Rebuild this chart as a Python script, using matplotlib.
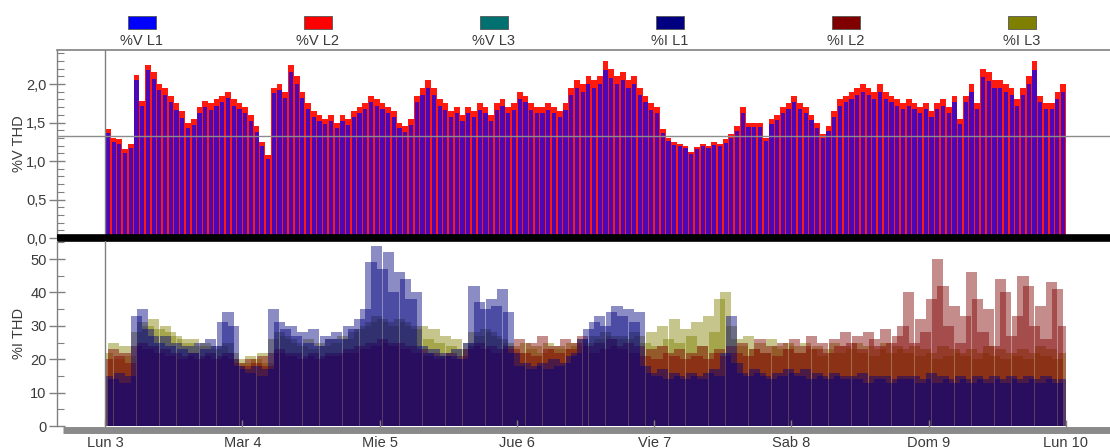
import numpy as np
import matplotlib
matplotlib.use("Agg")
import matplotlib.pyplot as plt
from matplotlib.patches import Rectangle
from matplotlib.ticker import MultipleLocator, FuncFormatter

plt.rcParams['font.family'] = ['Liberation Sans', 'DejaVu Sans']

# ---- labels -------------------------------------------------------------
day_labels = ["Lun 3", "Mar 4", "Mie 5", "Jue 6", "Vie 7", "Sab 8", "Dom 9", "Lun 10"]
series_names = ["%V L1", "%V L2", "%V L3", "%I L1", "%I L2", "%I L3"]
series_colors = ["#0000ff", "#ff0000", "#007070", "#000080", "#800000", "#808000"]

# ---- hourly voltage THD (%) ----------------------------------------------
v_l1 = [1.36, 1.25, 1.22, 1.10, 1.17, 2.05, 1.72, 2.18, 2.06, 1.92,
        1.86, 1.76, 1.66, 1.56, 1.43, 1.47, 1.62, 1.70, 1.66, 1.72,
        1.76, 1.82, 1.72, 1.68, 1.62, 1.52, 1.38, 1.19, 1.03, 1.88,
        1.92, 1.82, 2.15, 2.00, 1.82, 1.67, 1.57, 1.52, 1.48, 1.52,
        1.43, 1.52, 1.47, 1.57, 1.62, 1.67, 1.77, 1.72, 1.67, 1.62,
        1.57, 1.43, 1.38, 1.47, 1.77, 1.86, 1.95, 1.86, 1.72, 1.66,
        1.57, 1.62, 1.52, 1.62, 1.57, 1.66, 1.62, 1.52, 1.66, 1.72,
        1.62, 1.66, 1.80, 1.76, 1.66, 1.62, 1.62, 1.66, 1.62, 1.57,
        1.66, 1.86, 1.95, 1.90, 2.00, 1.95, 2.00, 2.18, 2.08, 2.00,
        2.05, 1.95, 2.00, 1.86, 1.76, 1.66, 1.62, 1.37, 1.26, 1.21,
        1.19, 1.17, 1.09, 1.15, 1.19, 1.17, 1.21, 1.19, 1.24, 1.30,
        1.39, 1.62, 1.44, 1.44, 1.44, 1.26, 1.48, 1.53, 1.62, 1.67,
        1.76, 1.67, 1.62, 1.53, 1.43, 1.30, 1.39, 1.57, 1.71, 1.76,
        1.81, 1.86, 1.90, 1.86, 1.81, 1.90, 1.81, 1.76, 1.71, 1.67,
        1.71, 1.67, 1.62, 1.67, 1.57, 1.67, 1.71, 1.62, 1.76, 1.48,
        1.76, 1.90, 1.67, 2.09, 2.04, 1.95, 1.95, 1.90, 1.86, 1.71,
        1.86, 2.00, 2.18, 1.76, 1.67, 1.67, 1.81, 1.90]

v_l2 = [1.42, 1.30, 1.28, 1.15, 1.22, 2.12, 1.78, 2.25, 2.15, 2.00,
        1.95, 1.85, 1.75, 1.65, 1.50, 1.55, 1.70, 1.78, 1.75, 1.80,
        1.85, 1.90, 1.80, 1.75, 1.70, 1.60, 1.45, 1.25, 1.08, 1.95,
        2.00, 1.90, 2.25, 2.10, 1.90, 1.75, 1.65, 1.60, 1.55, 1.60,
        1.50, 1.60, 1.55, 1.65, 1.70, 1.75, 1.85, 1.80, 1.75, 1.70,
        1.65, 1.50, 1.45, 1.55, 1.85, 1.95, 2.05, 1.95, 1.80, 1.75,
        1.65, 1.70, 1.60, 1.70, 1.65, 1.75, 1.70, 1.60, 1.75, 1.80,
        1.70, 1.75, 1.90, 1.85, 1.75, 1.70, 1.70, 1.75, 1.70, 1.65,
        1.75, 1.95, 2.05, 2.00, 2.10, 2.05, 2.10, 2.30, 2.20, 2.10,
        2.15, 2.05, 2.10, 1.95, 1.85, 1.75, 1.70, 1.42, 1.30, 1.25,
        1.22, 1.20, 1.12, 1.18, 1.22, 1.20, 1.25, 1.22, 1.28, 1.35,
        1.45, 1.70, 1.50, 1.50, 1.50, 1.30, 1.55, 1.60, 1.70, 1.75,
        1.85, 1.75, 1.70, 1.60, 1.50, 1.35, 1.45, 1.65, 1.80, 1.85,
        1.90, 1.95, 2.00, 1.95, 1.90, 2.00, 1.90, 1.85, 1.80, 1.75,
        1.80, 1.75, 1.70, 1.75, 1.65, 1.75, 1.80, 1.70, 1.85, 1.55,
        1.85, 2.00, 1.75, 2.20, 2.15, 2.05, 2.05, 2.00, 1.95, 1.80,
        1.95, 2.10, 2.30, 1.85, 1.75, 1.75, 1.90, 2.00]

v_l3 = [1.31, 1.20, 1.18, 1.06, 1.12, 1.98, 1.66, 2.10, 1.99, 1.86,
        1.80, 1.70, 1.60, 1.51, 1.38, 1.42, 1.57, 1.64, 1.61, 1.66,
        1.70, 1.76, 1.66, 1.62, 1.57, 1.47, 1.33, 1.15, 0.99, 1.82,
        1.86, 1.76, 2.08, 1.94, 1.76, 1.62, 1.52, 1.47, 1.43, 1.47,
        1.38, 1.47, 1.42, 1.52, 1.57, 1.61, 1.71, 1.66, 1.61, 1.57,
        1.52, 1.38, 1.33, 1.42, 1.71, 1.80, 1.89, 1.80, 1.66, 1.61,
        1.52, 1.57, 1.47, 1.57, 1.52, 1.61, 1.57, 1.47, 1.61, 1.66,
        1.57, 1.61, 1.75, 1.70, 1.61, 1.57, 1.57, 1.61, 1.57, 1.52,
        1.61, 1.80, 1.89, 1.84, 1.94, 1.89, 1.94, 2.11, 2.02, 1.94,
        1.98, 1.89, 1.94, 1.80, 1.70, 1.61, 1.57, 1.33, 1.22, 1.17,
        1.15, 1.13, 1.05, 1.11, 1.15, 1.13, 1.17, 1.15, 1.20, 1.26,
        1.35, 1.57, 1.40, 1.40, 1.40, 1.22, 1.43, 1.48, 1.57, 1.62,
        1.70, 1.62, 1.57, 1.48, 1.38, 1.26, 1.35, 1.52, 1.66, 1.70,
        1.75, 1.80, 1.84, 1.80, 1.75, 1.84, 1.75, 1.70, 1.66, 1.62,
        1.66, 1.62, 1.57, 1.62, 1.52, 1.62, 1.66, 1.57, 1.70, 1.43,
        1.70, 1.84, 1.62, 2.03, 1.98, 1.89, 1.89, 1.84, 1.80, 1.66,
        1.80, 1.94, 2.11, 1.70, 1.62, 1.62, 1.75, 1.84]

# ---- hourly current THD (%) ----------------------------------------------
i_l1 = [15, 14, 16, 13, 15, 33, 35, 29, 27, 25,
        27, 24, 25, 23, 24, 22, 25, 23, 26, 24,
        31, 34, 30, 18, 17, 16, 18, 15, 17, 35,
        31, 29, 30, 27, 28, 25, 29, 24, 27, 26,
        28, 26, 30, 29, 32, 35, 49, 54, 47, 52,
        40, 46, 44, 38, 40, 24, 22, 23, 21, 22,
        21, 23, 20, 25, 42, 37, 35, 38, 36, 41,
        34, 22, 18, 19, 17, 18, 19, 17, 20, 18,
        19, 21, 22, 26, 29, 31, 33, 30, 34, 36,
        33, 35, 31, 34, 18, 16, 15, 17, 14, 16,
        15, 14, 16, 15, 14, 16, 17, 15, 22, 33,
        19, 16, 15, 17, 16, 15, 14, 16, 15, 17,
        16, 15, 17, 14, 16, 15, 14, 16, 15, 14,
        15, 14, 16, 13, 15, 14, 15, 13, 14, 15,
        14, 15, 13, 14, 16, 13, 15, 14, 13, 15,
        14, 13, 15, 14, 13, 15, 14, 13, 15, 14,
        13, 15, 14, 13, 15, 14, 13, 14]

i_l2 = [20, 23, 21, 22, 19, 24, 25, 23, 24, 22,
        23, 21, 22, 20, 21, 22, 20, 21, 22, 20,
        21, 22, 20, 19, 18, 20, 19, 21, 18, 22,
        23, 22, 21, 22, 20, 21, 22, 20, 21, 22,
        21, 22, 23, 22, 24, 23, 25, 24, 26, 25,
        24, 25, 23, 24, 22, 23, 21, 22, 20, 21,
        22, 20, 21, 23, 24, 25, 23, 24, 22, 23,
        24, 23, 26, 22, 25, 21, 27, 23, 24, 22,
        26, 23, 25, 27, 24, 22, 25, 23, 26, 24,
        23, 25, 22, 24, 21, 23, 20, 24, 22, 21,
        23, 20, 22, 21, 24, 20, 22, 23, 21, 24,
        22, 25, 21, 23, 26, 22, 24, 21, 25, 23,
        26, 22, 24, 27, 23, 25, 22, 26, 24, 28,
        25, 27, 23, 28, 26, 24, 29, 25, 27, 30,
        40, 25, 32, 28, 38, 50, 42, 30, 36, 25,
        33, 46, 38, 28, 35, 24, 44, 40, 27, 33,
        45, 42, 30, 36, 26, 43, 41, 30]

i_l3 = [22, 25, 20, 24, 21, 28, 31, 30, 32, 29,
        30, 28, 27, 26, 25, 26, 24, 25, 24, 23,
        24, 25, 22, 20, 19, 21, 20, 22, 19, 26,
        28, 27, 26, 25, 24, 26, 23, 25, 24, 26,
        25, 27, 26, 28, 29, 30, 31, 33, 32, 31,
        30, 32, 31, 30, 29, 30, 26, 29, 25, 27,
        24, 26, 23, 25, 28, 27, 29, 28, 27, 26,
        25, 24, 22, 25, 23, 24, 22, 25, 23, 24,
        23, 25, 24, 26, 25, 27, 26, 28, 27, 26,
        27, 26, 28, 27, 25, 28, 24, 30, 26, 32,
        25, 29, 27, 31, 24, 33, 28, 38, 40, 30,
        26, 24, 27, 23, 25, 22, 26, 24, 23, 25,
        24, 22, 25, 23, 24, 21, 23, 25, 22, 24,
        23, 25, 22, 24, 21, 23, 25, 22, 24, 23,
        22, 24, 21, 23, 22, 20, 24, 21, 23, 22,
        21, 23, 20, 22, 24, 21, 23, 20, 22, 21,
        23, 20, 22, 24, 21, 23, 20, 22]

v_marker = 1.32  # horizontal reference line on the voltage panel

# ---- figure layout (pixel based) -------------------------------------------
W, H = 1110, 448
fig = plt.figure(figsize=(W / 100, H / 100), dpi=100)


def fx(px):
    return px / W


def fy(py):
    return 1 - py / H


ax1 = fig.add_axes([fx(57), fy(238), fx(1110) - fx(57), fy(50) - fy(238)])
ax2 = fig.add_axes([fx(57), fy(426), fx(1110) - fx(57), fy(241) - fy(426)])

hours = np.arange(len(v_l1))
n_hours = len(hours)
x_min, x_max = -8.4, 175.7
grey = "#808080"
txt = "#3a3a3a"
comma_fmt = FuncFormatter(lambda v, p: f"{v:.1f}".replace(".", ","))

# ---- voltage panel ----------------------------------------------------------
ax1.bar(hours, v_l3, width=1.0, align="edge", color=series_colors[2], linewidth=0)
ax1.bar(hours, v_l2, width=1.0, align="edge", color="#ff1a10", linewidth=0)
ax1.bar(hours + 0.5, v_l1, width=0.74, color=series_colors[0], alpha=0.7, linewidth=0)
ax1.axhline(v_marker, color="#8c8c8c", lw=1.0, zorder=4)
ax1.axvline(0, color=grey, lw=1.0, zorder=4)
ax1.axhline(0, color="black", lw=5.5, zorder=6, clip_on=False, solid_capstyle="butt")

ax1.set_xlim(x_min, x_max)
ax1.set_ylim(0, 2.4416)
ax1.yaxis.set_major_locator(MultipleLocator(0.5))
ax1.yaxis.set_minor_locator(MultipleLocator(0.1))
ax1.yaxis.set_major_formatter(comma_fmt)
ax1.set_xticks([])
ax1.set_ylabel("%V THD", fontsize=10.5, color=txt)

# ---- current panel ----------------------------------------------------------
# translucent, slightly overlapping bars: darker where samples pile up,
# lighter where a single peak stands alone
clip_rect = Rectangle((0, 0), n_hours, 100, transform=ax2.transData)
for vals, col in [(i_l3, series_colors[5]), (i_l2, series_colors[4]), (i_l1, series_colors[3])]:
    bars = ax2.bar(hours + 0.5, vals, width=1.95, color=col, alpha=0.45, linewidth=0)
    for b in bars:
        b.set_clip_path(clip_rect)
ax2.axvline(0, color=grey, lw=1.0, zorder=4)

ax2.set_xlim(x_min, x_max)
ax2.set_ylim(0, 55.39)
ax2.yaxis.set_major_locator(MultipleLocator(10))
ax2.yaxis.set_minor_locator(MultipleLocator(5))
ax2.set_xticks(np.arange(0, n_hours + 1, 24))
ax2.set_xticklabels(day_labels)
ax2.set_ylabel("%I THD", fontsize=10.5, color=txt)

# ---- spines & ticks ---------------------------------------------------------
for ax in (ax1, ax2):
    ax.spines["right"].set_visible(False)
    ax.spines["left"].set_color(grey)
    ax.spines["left"].set_linewidth(1.0)
    ax.tick_params(axis="y", which="major", direction="inout", length=11,
                   width=1.0, color=grey, labelsize=10.5, labelcolor=txt, pad=2)
    ax.tick_params(axis="y", which="minor", direction="in", length=5,
                   width=0.8, color=grey)
    ax.set_facecolor("none")

ax1.spines["bottom"].set_visible(False)
ax1.spines["top"].set_color(grey)
ax1.spines["top"].set_linewidth(1.2)

ax2.spines["top"].set_visible(False)
ax2.spines["bottom"].set_color("#8a8a8a")
ax2.spines["bottom"].set_linewidth(5)
ax2.spines["bottom"].set_capstyle("butt")
ax2.spines["bottom"].set_position(("outward", 3))
ax2.spines["bottom"].set_bounds(-7.3, x_max)
ax2.tick_params(axis="x", direction="in", length=7, width=1.0, color=grey,
                labelsize=10.5, labelcolor=txt, pad=4)

ax1.yaxis.set_label_coords(-0.0294, 0.5)
ax2.yaxis.set_label_coords(-0.0294, 0.5)

# ---- legend row -------------------------------------------------------------
for k, (name, col) in enumerate(zip(series_names, series_colors)):
    cx = 142 + 176 * k
    fig.patches.append(Rectangle((fx(cx - 14), fy(29)), 28 / W, 13 / H,
                                 transform=fig.transFigure, facecolor=col,
                                 edgecolor="#555555", linewidth=0.6))
    fig.text(fx(cx), fy(41), name, ha="center", va="center",
             fontsize=10.5, color=txt)

fig.savefig("out.png", dpi=100)
